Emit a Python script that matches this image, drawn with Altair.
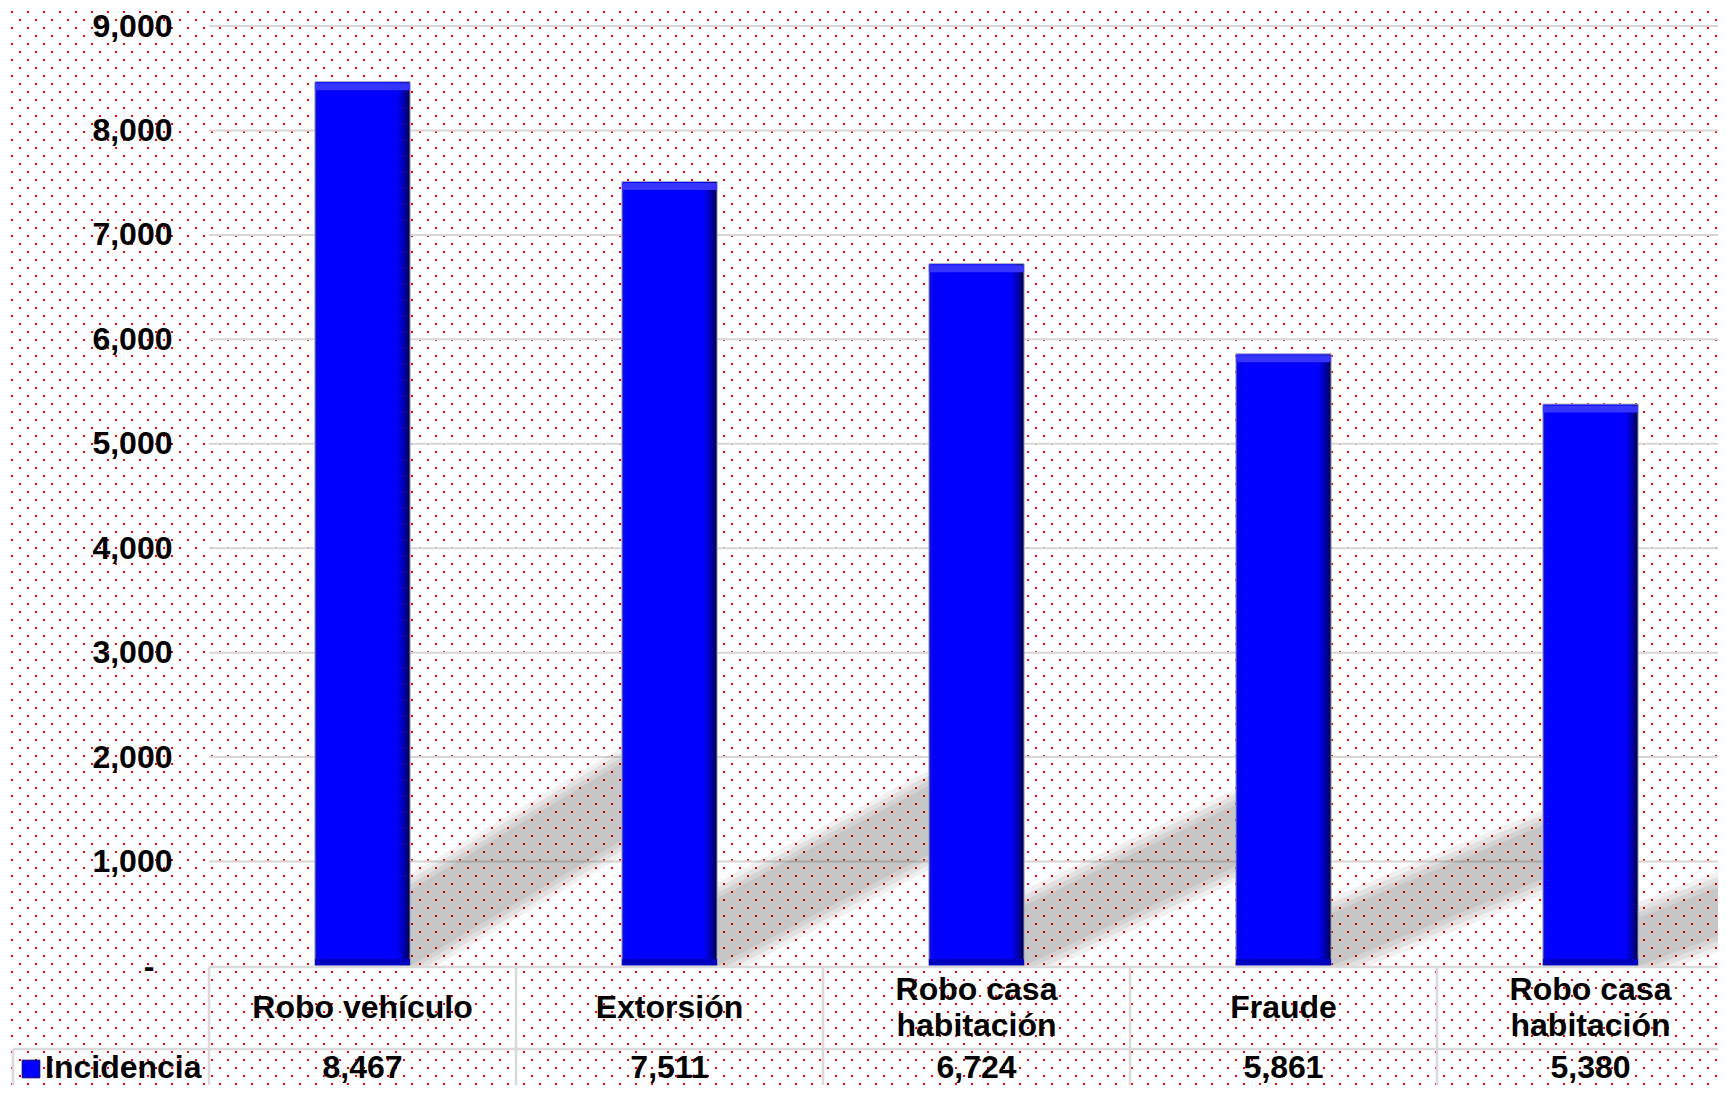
import base64
import altair as alt
import pandas as pd

# ---------------- data ----------------
categories = ["Robo vehículo", "Extorsión", "Robo casa\nhabitación", "Fraude", "Robo casa\nhabitación"]
values = [8467, 7511, 6724, 5861, 5380]
series_name = "Incidencia"
y_ticks = [0, 1000, 2000, 3000, 4000, 5000, 6000, 7000, 8000, 9000]

# ---------------- layout ----------------
W, H = 1509, 940
PAD_L, PAD_T, PAD_B = 201, 18, 119
BAND = 307.0                      # px per category column
X_MAX = -0.5 + W / BAND           # last column runs past the right edge
HALF = 0.155                      # half bar width in band units
FONT = "Liberation Sans"
FS = 32

df = pd.DataFrame({"idx": list(range(len(values))), "cat": categories, "value": values})
df["x0"] = df["idx"] - HALF
df["x1"] = df["idx"] + HALF
df["zero"] = 0
df["b"] = df["idx"] - 0.5
df["multi"] = df["cat"].str.contains("\n")

# shadow parallelograms derived from bar values (style ratios)
rows = []
for i, v in zip(df["idx"], df["value"]):
    for lvl, e in enumerate([0, 50, 100, 150]):
        rows.append({"sid": i, "lvl": lvl, "sx": i + HALF, "lo": 0 - e, "hi": 0.086 * v + e})
        rows.append({"sid": i, "lvl": lvl, "sx": i + 1 - HALF, "lo": 0.142 * v - e, "hi": 0.23 * v + e})
shadow = pd.DataFrame(rows)

one = pd.DataFrame({"a": [0]})
grid_df = pd.DataFrame({"t": y_ticks[1:]})

xs = alt.Scale(domain=[-0.5, X_MAX], nice=False, zero=False)
ys = alt.Scale(domain=[0, 9000], nice=False)

yaxis = alt.Axis(
    values=y_ticks,
    labelExpr="datum.value == 0 ? '-' : format(datum.value, ',.0f')",
    labelFontSize=FS, labelFontWeight="bold", labelFont=FONT, labelColor="black",
    grid=False, domain=False, ticks=False, title=None, zindex=2,
    labelPadding={"condition": {"test": "datum.value == 0", "value": 55}, "value": 37},
)

# dotted background pattern as an SVG image
IMG_W, IMG_H = W + PAD_L, H + PAD_T + PAD_B
svg = (
    f'<svg xmlns="http://www.w3.org/2000/svg" width="{IMG_W}" height="{IMG_H}">'
    '<defs><pattern id="p" x="0" y="0" width="16" height="16" patternUnits="userSpaceOnUse">'
    '<rect x="3" y="3" width="2" height="2" fill="#ff0000"/>'
    '<rect x="11" y="11" width="2" height="2" fill="#ff0000"/>'
    '</pattern></defs>'
    '<rect width="100%" height="100%" fill="#ffffff"/>'
    '<rect width="100%" height="100%" fill="url(#p)"/></svg>'
)
one["url"] = "data:image/svg+xml;base64," + base64.b64encode(svg.encode()).decode()

bg = alt.Chart(one).mark_image(
    width=IMG_W, height=IMG_H, aspect=False, align="left", baseline="top"
).encode(x=alt.value(-PAD_L), y=alt.value(-PAD_T), url="url:N")

grid = alt.Chart(grid_df).mark_rule(color="#d6d6d6", strokeWidth=2).encode(
    y=alt.Y("t:Q", scale=ys, axis=yaxis), x=alt.value(0), x2=alt.value(W)
)

shadows = alt.Chart(shadow).mark_area(color="black", opacity=0.058, clip=True).encode(
    x=alt.X("sx:Q", scale=xs, axis=None),
    y=alt.Y("lo:Q", scale=ys, axis=yaxis),
    y2="hi:Q",
    detail=["sid:N", "lvl:N"],
)

grad = alt.LinearGradient(
    gradient="linear", x1=0, x2=1, y1=0, y2=0,
    stops=[
        alt.GradientStop(offset=0, color="#1010d0"),
        alt.GradientStop(offset=0.05, color="#0000ff"),
        alt.GradientStop(offset=0.86, color="#0000ff"),
        alt.GradientStop(offset=0.94, color="#0000a8"),
        alt.GradientStop(offset=1, color="#000040"),
    ],
)

bars = alt.Chart(df).mark_rect(color=grad, stroke="#a8a8c8", strokeWidth=1).encode(
    x=alt.X("x0:Q", scale=xs, axis=None), x2="x1:Q",
    y=alt.Y("value:Q", scale=ys, axis=yaxis), y2="zero:Q",
)

top_bevel = alt.Chart(df).mark_rule(color="#3535ff", strokeWidth=7, yOffset=5).encode(
    x=alt.X("x0:Q", scale=xs, axis=None), x2="x1:Q", y=alt.Y("value:Q", scale=ys, axis=yaxis)
)
bottom_bevel = alt.Chart(df).mark_rule(color="#0000c0", strokeWidth=6, yOffset=-4).encode(
    x=alt.X("x0:Q", scale=xs, axis=None), x2="x1:Q", y=alt.Y("zero:Q", scale=ys, axis=yaxis)
)

LINE = "#d9d9d9"
ROW2 = 83
h_top = alt.Chart(one).mark_rule(color=LINE, strokeWidth=2.5).encode(
    x=alt.value(0), x2=alt.value(W), y=alt.value(H + 1)
)
h_mid = alt.Chart(one).mark_rule(color=LINE, strokeWidth=2.5).encode(
    x=alt.value(-196), x2=alt.value(W), y=alt.value(H + ROW2)
)
v_lines = alt.Chart(df).mark_rule(color=LINE, strokeWidth=2.5).encode(
    x=alt.X("b:Q", scale=xs, axis=None), y=alt.value(H + 1), y2=alt.value(H + PAD_B)
)
v_left = alt.Chart(one).mark_rule(color=LINE, strokeWidth=2.5).encode(
    x=alt.value(-196), y=alt.value(H + ROW2), y2=alt.value(H + PAD_B)
)

txt = dict(fontSize=FS, fontWeight="bold", font=FONT, baseline="middle",
           align="center", color="black")

cat_single = alt.Chart(df).transform_filter("!datum.multi").mark_text(**txt).encode(
    x=alt.X("idx:Q", scale=xs, axis=None), y=alt.value(H + 42), text="cat:N"
)
cat_multi = alt.Chart(df).transform_filter("datum.multi").mark_text(
    lineBreak="\n", lineHeight=36, **txt
).encode(x=alt.X("idx:Q", scale=xs, axis=None), y=alt.value(H + 24), text="cat:N")

VAL_Y = H + 102
val_text = alt.Chart(df).mark_text(**txt).encode(
    x=alt.X("idx:Q", scale=xs, axis=None), y=alt.value(VAL_Y),
    text=alt.Text("value:Q", format=",.0f"),
)

leg_sq = alt.Chart(one).mark_square(size=310, color="#0000ff", stroke="#000070",
                                    strokeWidth=1, filled=True, opacity=1).encode(
    x=alt.value(-178), y=alt.value(VAL_Y + 1)
)
leg_text = alt.Chart(one).mark_text(
    fontSize=FS, fontWeight="bold", font=FONT, baseline="middle", align="left", color="black"
).encode(x=alt.value(-164), y=alt.value(VAL_Y), text=alt.value(series_name))

chart = alt.layer(
    bg, grid, shadows, bars, top_bevel, bottom_bevel,
    h_top, h_mid, v_lines, v_left, cat_single, cat_multi, val_text, leg_sq, leg_text,
).properties(
    width=W, height=H,
    autosize=alt.AutoSizeParams(type="none"),
    padding={"left": PAD_L, "top": PAD_T, "right": 0, "bottom": PAD_B},
).configure_view(strokeWidth=0).configure(background="white")

chart.save("out.html", embed_options={"renderer": "svg", "actions": False})
